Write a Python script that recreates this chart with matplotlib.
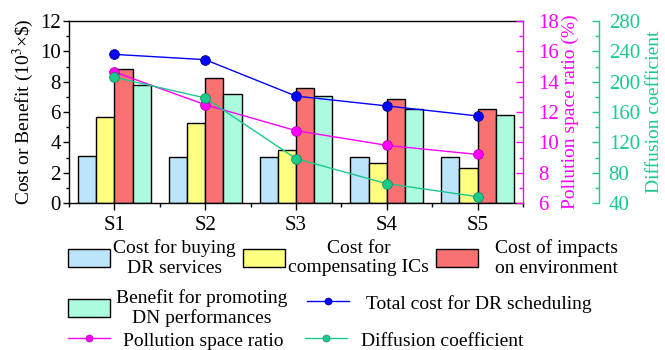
import matplotlib
matplotlib.use("Agg")
import matplotlib.pyplot as plt
import numpy as np
from matplotlib.patches import Patch
from matplotlib.lines import Line2D
from matplotlib.ticker import MultipleLocator

plt.rcParams['font.family'] = ['Liberation Serif', 'DejaVu Serif']
plt.rcParams['mathtext.fontset'] = 'stix'

scenarios = ["S1", "S2", "S3", "S4", "S5"]
buy_dr = [3.1, 3.05, 3.05, 3.03, 3.03]
compensate_ic = [5.65, 5.3, 3.5, 2.66, 2.33]
env_impact = [8.85, 8.25, 7.6, 6.88, 6.18]
dn_benefit = [7.8, 7.2, 7.05, 6.22, 5.78]
total_cost = [9.8, 9.45, 7.05, 6.4, 5.74]
pollution_ratio = [14.64, 12.48, 10.77, 9.8, 9.2]
diffusion = [205.8, 178.5, 98.5, 65.5, 48.3]

c_blue, c_yellow, c_red, c_mint = '#BCE4FB', '#FFFF80', '#F87272', '#ADFBDF'
c_line = '#0000FF'
c_pink = '#FF00FF'
c_green = '#1BC98C'

W, H = 665, 350
fig = plt.figure(figsize=(W / 100, H / 100), dpi=100)
ax = fig.add_axes([69 / W, 1 - 203 / H, (523 - 69) / W, (203 - 21) / H])

x = np.arange(len(scenarios))
bw = 0.2
bar_kw = dict(width=bw, edgecolor='black', linewidth=1.0, zorder=2)
ax.bar(x - 0.3, buy_dr, color=c_blue, **bar_kw)
ax.bar(x - 0.1, compensate_ic, color=c_yellow, **bar_kw)
ax.bar(x + 0.1, env_impact, color=c_red, **bar_kw)
ax.bar(x + 0.3, dn_benefit, color=c_mint, **bar_kw)
ax.plot(x, total_cost, color=c_line, lw=1.0, marker='o', ms=7,
        mec='#00008B', mew=0.6, zorder=5)

ax.set_xlim(-0.5, 4.5)
ax.set_ylim(0, 12)
ax.set_xticks(x)
ax.set_xticklabels(scenarios)
ax.xaxis.set_minor_locator(MultipleLocator(1.0))
ax.set_xticks(np.arange(-0.5, 5.0, 1.0), minor=True)
ax.yaxis.set_major_locator(MultipleLocator(2))
ax.yaxis.set_minor_locator(MultipleLocator(1))
ax.tick_params(axis='x', which='major', direction='out', length=5, width=1, pad=4, labelsize=15)
ax.tick_params(axis='x', which='minor', direction='out', length=3, width=1)
ax.tick_params(axis='y', which='major', direction='out', length=4, width=1, pad=2, labelsize=15)
ax.tick_params(axis='y', which='minor', direction='out', length=2.5, width=1)
ax.set_ylabel(r"Cost or Benefit (10$^3$×\$)", fontsize=14, labelpad=3)
ax.spines['right'].set_visible(False)
for s in ['left', 'bottom', 'top']:
    ax.spines[s].set_linewidth(1.0)

# pollution space ratio axis
ax2 = ax.twinx()
ax2.plot(x, pollution_ratio, color=c_pink, lw=1.0, marker='o', ms=7,
         mec='#B000B0', mew=0.6, zorder=5)
ax2.set_ylim(6, 18)
ax2.yaxis.set_major_locator(MultipleLocator(2))
ax2.yaxis.set_minor_locator(MultipleLocator(1))
ax2.tick_params(axis='y', which='major', direction='in', length=5, width=1, pad=11,
                labelsize=15, colors=c_pink)
ax2.tick_params(axis='y', which='minor', direction='in', length=3, width=1, colors=c_pink)
ax2.spines['right'].set_color(c_pink)
ax2.spines['right'].set_linewidth(1.0)
for s in ['left', 'top', 'bottom']:
    ax2.spines[s].set_visible(False)
ax2.set_ylabel("Pollution space ratio (%)", color=c_pink, fontsize=14, labelpad=2)

# diffusion coefficient axis
ax3 = ax.twinx()
ax3.spines['right'].set_position(('axes', (599 - 69) / (523 - 69)))
ax3.plot(x, diffusion, color=c_green, lw=1.0, marker='o', ms=7,
         mec='#0F8F60', mew=0.6, zorder=5)
ax3.set_ylim(40, 280)
ax3.yaxis.set_major_locator(MultipleLocator(40))
ax3.yaxis.set_minor_locator(MultipleLocator(20))
ax3.tick_params(axis='y', which='major', direction='in', length=5, width=1, pad=7,
                labelsize=15, colors=c_green)
ax3.tick_params(axis='y', which='minor', direction='in', length=3, width=1, colors=c_green)
ax3.spines['right'].set_color(c_green)
ax3.spines['right'].set_linewidth(1.0)
for s in ['left', 'top', 'bottom']:
    ax3.spines[s].set_visible(False)
ax3.set_ylabel("Diffusion coefficient", color=c_green, fontsize=14, labelpad=4)

# legend entries, placed one by one
fs = 14
em = fs * 100 / 72


def add_entry(handle, label, left, cy, gap):
    leg = fig.legend(handles=[handle], labels=[label], loc='center left',
                     bbox_to_anchor=(left / W, 1 - cy / H), frameon=False,
                     fontsize=fs, handlelength=42 / em, handleheight=20 / em,
                     handletextpad=gap / em, borderpad=0, borderaxespad=0)
    for t in leg.get_texts():
        t.set_multialignment('center')
    return leg


def box(c):
    return Patch(facecolor=c, edgecolor='black', linewidth=1.0)


def line(c, mec):
    return Line2D([], [], color=c, lw=1.0, marker='o', ms=5, mec=mec, mew=0.5)


add_entry(box(c_blue), "Cost for buying\nDR services", 68, 258, 3)
add_entry(box(c_yellow), "Cost for\ncompensating ICs", 243, 258, 3)
add_entry(box(c_red), "Cost of impacts\non environment", 436, 258, 17)
add_entry(box(c_mint), "Benefit for promoting\nDN performances", 68, 308, 6)
add_entry(line(c_line, '#00008B'), "Total cost for DR scheduling", 307, 303, 17)
add_entry(line(c_pink, '#B000B0'), "Pollution space ratio", 68, 340, 13)
add_entry(line(c_green, '#0F8F60'), "Diffusion coefficient", 305, 340, 14)

fig.savefig("out.png", dpi=100)
